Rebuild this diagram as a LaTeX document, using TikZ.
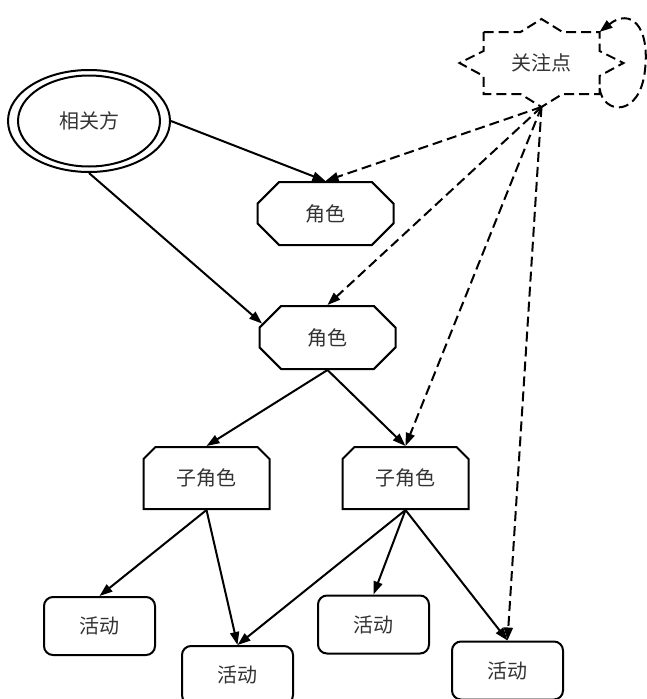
\documentclass[tikz,border=0pt]{standalone}
\usepackage{fontspec}
\newfontfamily\cjk{Noto Sans CJK SC}
\usetikzlibrary{shapes.geometric,shapes.misc,arrows.meta}

\begin{document}
\begin{tikzpicture}[
	x=1pt,y=-1pt,
	every node/.style={font=\cjk\fontsize{20}{22}\selectfont,text=black!80,line width=2pt},
	party/.style={ellipse,draw,minimum width=162pt,minimum height=102pt},
	role/.style={chamfered rectangle,chamfered rectangle xsep=18pt,chamfered rectangle ysep=9pt,draw,minimum width=136pt,minimum height=63pt},
	subrole/.style={chamfered rectangle,chamfered rectangle corners={north west,north east},chamfered rectangle xsep=7pt,chamfered rectangle ysep=5pt,draw,minimum width=126pt,minimum height=62pt},
	activity/.style={rectangle,rounded corners=9pt,draw,minimum width=111pt,minimum height=58pt},
	flow/.style={-{Triangle[length=13pt,width=9pt]},line width=2pt},
	concern/.style={flow,dash pattern=on 10pt off 5pt}
	]
	\useasboundingbox (0,0) rectangle (647,699);
	\node[party] (party) at (89,121) {相关方};
	\draw[line width=2pt] (party.center) ellipse [x radius=71pt,y radius=45.5pt];
	\node[role] (role1) at (325.5,213.5) {角色};
	\node[role] (role2) at (327.5,337.5) {角色};
	\node[subrole] (subL) at (206.5,478) {子角色};
	\node[subrole] (subR) at (405.5,478) {子角色};
	\node[activity] (act1) at (99.5,626) {活动};
	\node[activity] (act2) at (237.5,675) {活动};
	\node[activity] (act3) at (373.5,624.5) {活动};
	\node[activity] (act4) at (507.5,670.5) {活动};
	\node (concern) at (541.5,63) {关注点};
	\draw[line width=2pt,dash pattern=on 10pt off 5pt,shift={(concern.center)}]
		(-58,-31) -- (-21,-31) -- (0,-44) -- (21,-31) -- (58,-31) -- (58,-12) -- (82,0) -- (58,13)
		-- (58,31) -- (21,31) -- (0,44) -- (-21,31) -- (-58,31) -- (-58,13) -- (-82,0) -- (-58,-12) -- cycle;
	\coordinate (tip) at ([yshift=-44pt]concern.center);
	\coordinate (loopout) at ([xshift=58pt,yshift=-25pt]concern.center);
	\coordinate (loopin) at ([xshift=58pt,yshift=31pt]concern.center);
	\draw[flow] (party.east) -- (role1.north);
	\draw[flow] (party.south) -- (role2.168);
	\draw[flow] (role2.south) -- (subL.north);
	\draw[flow] (role2.south) -- (subR.north);
	\draw[flow] (subL.south) -- (act1.north);
	\draw[flow] (subL.south) -- (act2.north);
	\draw[flow] (subR.south) -- (act2.north);
	\draw[flow] (subR.south) -- (act3.north);
	\draw[flow] (subR.south) -- (act4.north);
	\draw[concern] (tip) -- (role1.north);
	\draw[concern] (tip) -- (role2.north);
	\draw[concern] (tip) -- (subR.north);
	\draw[concern] (tip) -- (act4.north);
	\draw[concern] (loopout) .. controls (603,115) and (640,118) .. (645,70) .. controls (650,25) and (630,8) .. (loopin);
\end{tikzpicture}
\end{document}
